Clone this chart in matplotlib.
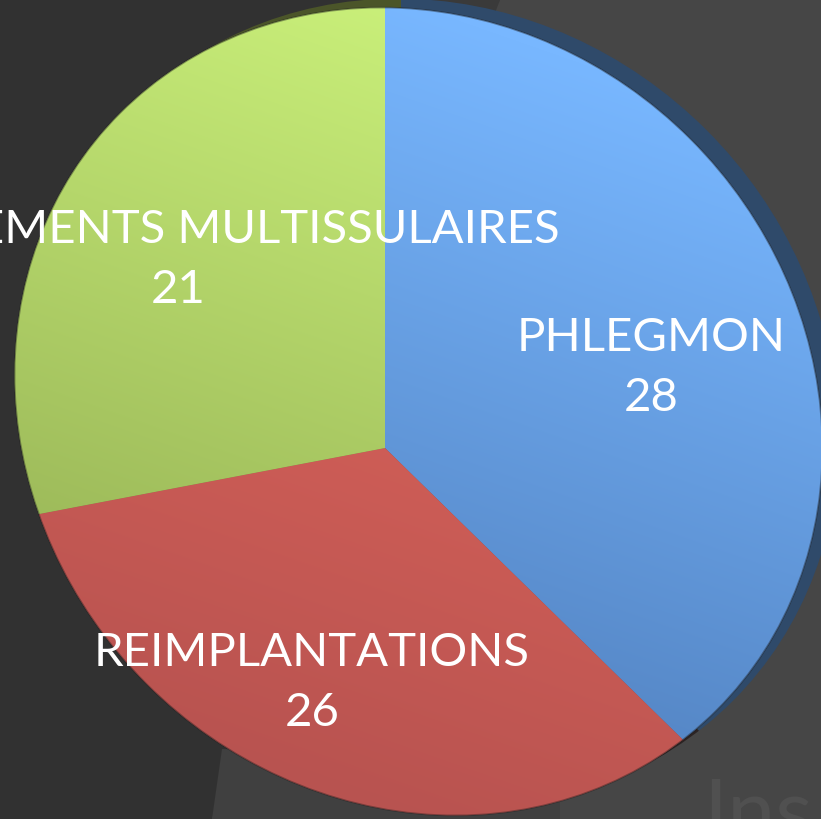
import numpy as np
import matplotlib.pyplot as plt
from matplotlib.patches import Ellipse, Polygon
from matplotlib.colors import to_rgb

W, H = 821, 819

# slices, clockwise from 12 o'clock
labels = ["PHLEGMON", "REIMPLANTATIONS", "DELABREMENTS MULTISSULAIRES"]
counts = [28, 26, 21]

top_colors = ["#78b7ff", "#e8695e", "#caf07a"]
bottom_colors = ["#4d7bb8", "#b85350", "#92ad52"]
side_colors = ["#2f4a6a", "#2c2424", "#4b5529"]

# pie geometry in pixels (y measured from the top of the image)
vertex = (385, 448)
rim_center = (418.5, 411.5)
rim_w, rim_h, rim_angle = 844, 770, -45
side_shift = (16, 9)
# label anchors (centre x, baseline of the first line)
label_pos = [(651, 351), (312, 666), (178, 243)]
line_gap = 60

fig = plt.figure(figsize=(W / 100, H / 100), dpi=100)
fig.patch.set_facecolor("#313131")
ax = fig.add_axes([0, 0, 1, 1])

# slide background: darker left part, lighter right part
ax.add_patch(Polygon([(380, H), (500, H), (480, H - 120), (370, H - 120)],
                     closed=True, fc="#3a3a3a", ec="none", zorder=0))
ax.add_patch(Polygon([(500, H), (W, H), (W, 0), (212, 0), (300, 300)],
                     closed=True, fc="#464646", ec="none", zorder=0))
ax.add_patch(Polygon([(212, 0), (560, 0), (560, 60), (222, 70)],
                     closed=True, fc="#404040", ec="none", zorder=0.2))
ax.text(703, -20, "Ins", fontsize=62, color="#505050", family="Lato",
        va="baseline", zorder=0.5)

vx, vy = vertex[0], H - vertex[1]
ex, ey = rim_center[0], H - rim_center[1]

# 3d side of the pie, peeking out on the upper right
side = ax.pie(counts, colors=side_colors, startangle=90, counterclock=False,
              center=(vx + side_shift[0], vy + side_shift[1]), radius=700,
              wedgeprops=dict(linewidth=0))[0]
side_rim = Ellipse((ex + side_shift[0], ey + side_shift[1]), rim_w, rim_h,
                   angle=rim_angle, transform=ax.transData)
for w in side:
    w.set_clip_on(True)
    w.set_clip_path(side_rim)
    w.set_zorder(1)

wedges = ax.pie(counts, colors=bottom_colors, startangle=90, counterclock=False,
                center=(vx, vy), radius=700, wedgeprops=dict(linewidth=0))[0]
rim = Ellipse((ex, ey), rim_w, rim_h, angle=rim_angle, transform=ax.transData)
for w in wedges:
    w.set_clip_on(True)
    w.set_clip_path(rim)
    w.set_zorder(2)

# soft top-to-bottom shading of each slice
px = np.arange(W) + 0.5
py = np.arange(H) + 0.5
X, Yd = np.meshgrid(px, py)
Yu = H - Yd
t = np.clip((Yd - 0.35 * (X - 400)) / H, 0, 1)
dx, dy = X - ex, Yu - ey
th = np.deg2rad(rim_angle)
u = dx * np.cos(th) + dy * np.sin(th)
v = -dx * np.sin(th) + dy * np.cos(th)
q = np.sqrt((u / (rim_w / 2)) ** 2 + (v / (rim_h / 2)) ** 2)
alpha = np.clip(0.5 - (q - 1) * (rim_w + rim_h) / 4, 0, 1)

for w, c0, c1 in zip(wedges, top_colors, bottom_colors):
    a, b = np.array(to_rgb(c0)), np.array(to_rgb(c1))
    img = np.empty((H, W, 4))
    img[..., :3] = a + (b - a) * t[..., None]
    img[..., 3] = alpha
    im = ax.imshow(img, extent=(0, W, 0, H), origin="upper", zorder=2.5,
                   interpolation="nearest")
    im.set_clip_path(w)

ax.add_patch(Ellipse((ex, ey), rim_w, rim_h, angle=rim_angle, fc="none",
                     ec="#1c1c1c", lw=1.2, alpha=0.4, zorder=3))

for name, n, (lx, ly) in zip(labels, counts, label_pos):
    ax.text(lx, H - ly, name, color="white", fontsize=34, family="Lato",
            ha="center", va="baseline", zorder=5)
    ax.text(lx, H - ly - line_gap, str(n), color="white", fontsize=34,
            family="Lato", ha="center", va="baseline", zorder=5)

ax.set_xlim(0, W)
ax.set_ylim(0, H)
ax.set_aspect("auto")
ax.axis("off")

fig.savefig("out.png", dpi=100, facecolor=fig.get_facecolor())
